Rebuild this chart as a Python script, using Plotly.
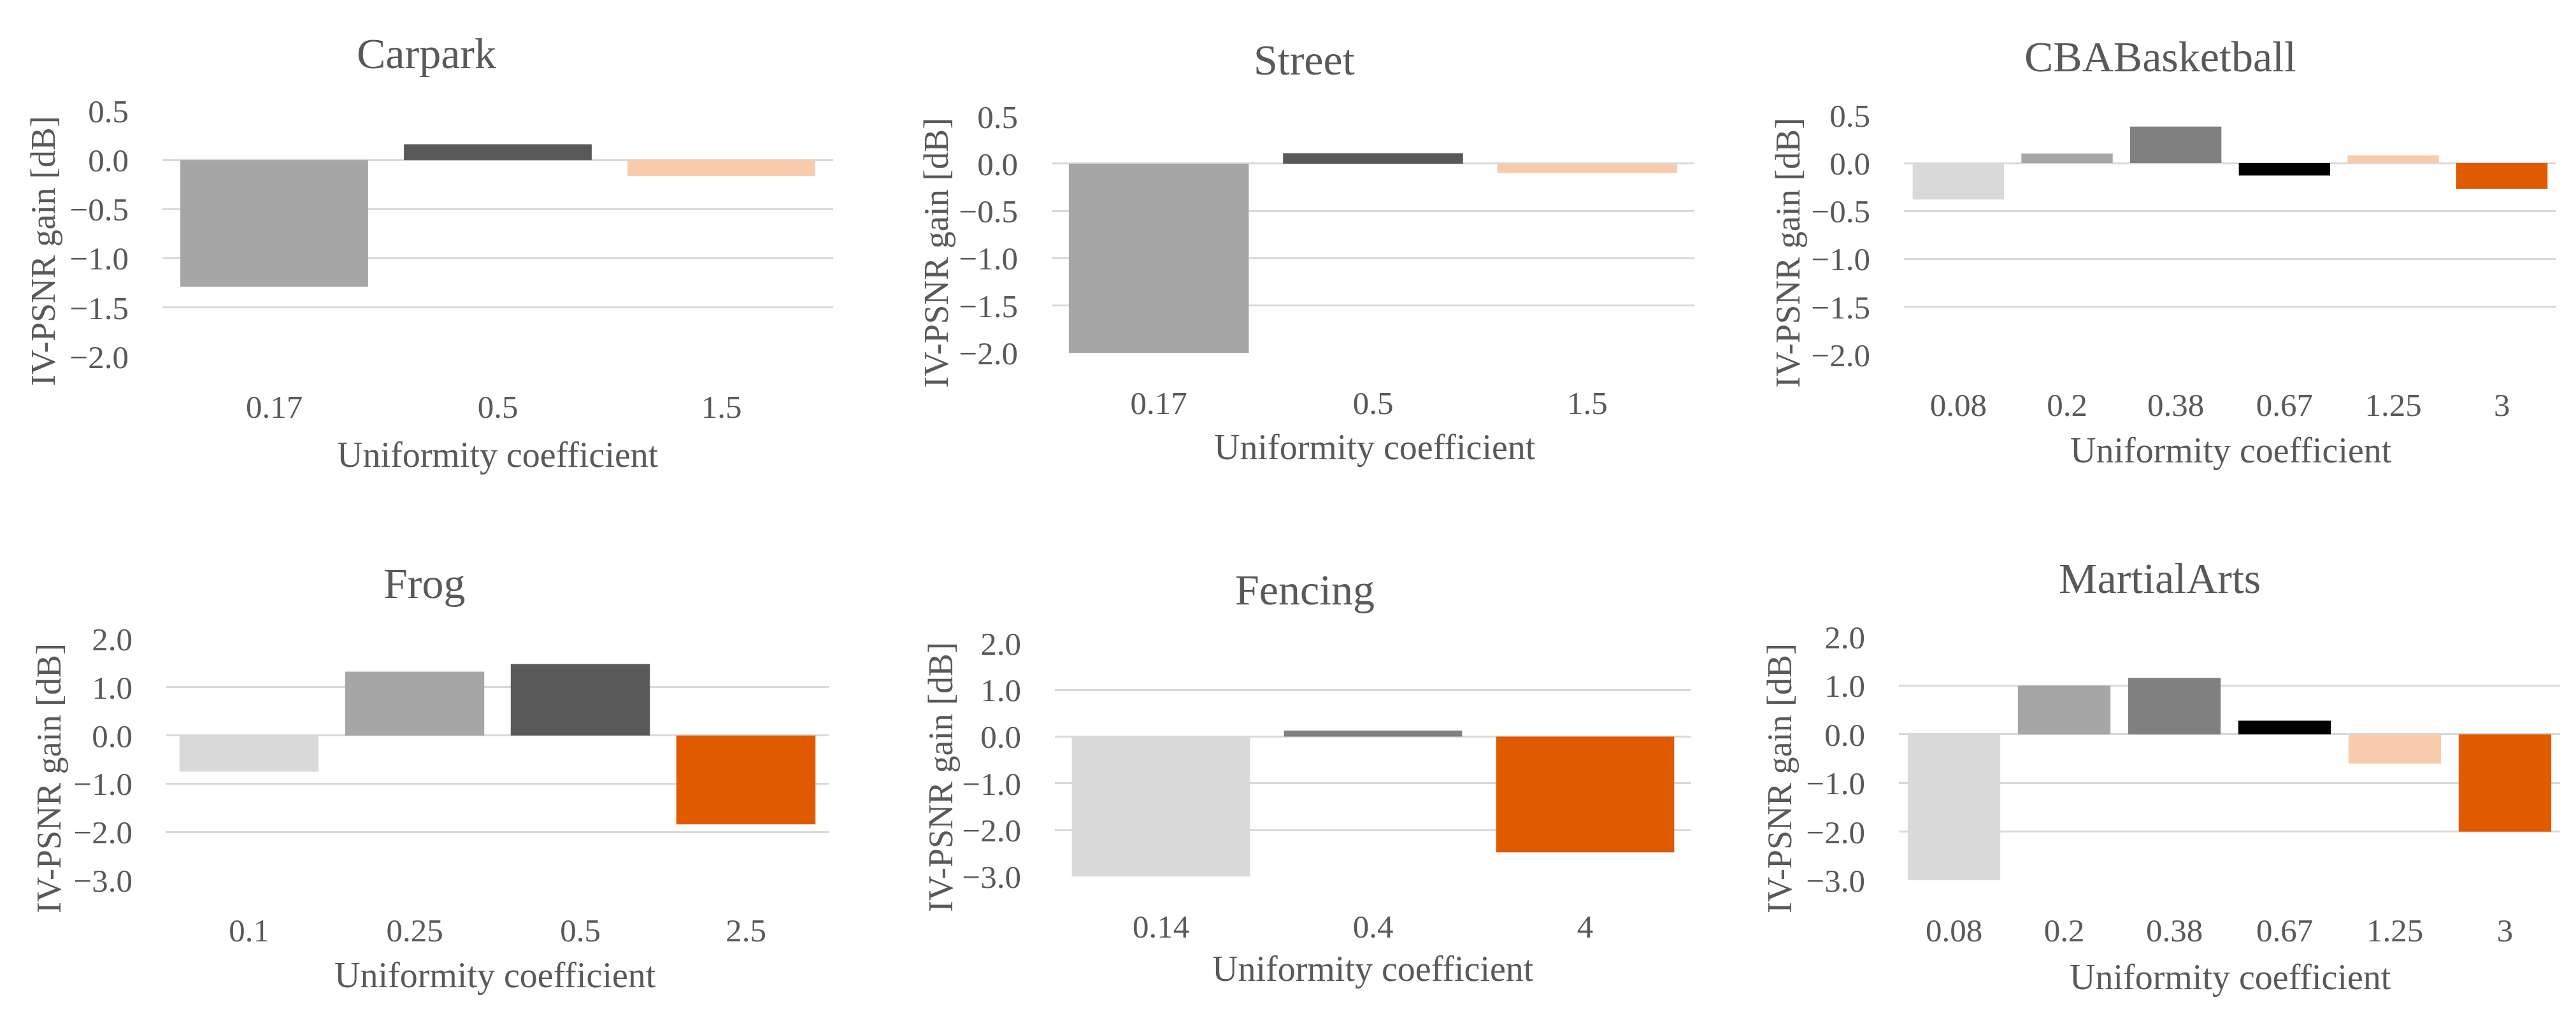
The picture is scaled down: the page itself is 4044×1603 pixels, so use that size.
import plotly.graph_objects as go

W, H = 4044, 1603

# ---------------- data ----------------
titles = ["Carpark", "Street", "CBABasketball", "Frog", "Fencing", "MartialArts"]

carpark_x = ["0.17", "0.5", "1.5"]
carpark_y = [-1.29, 0.16, -0.16]

street_x = ["0.17", "0.5", "1.5"]
street_y = [-2.0, 0.11, -0.10]

cba_x = ["0.08", "0.2", "0.38", "0.67", "1.25", "3"]
cba_y = [-0.38, 0.10, 0.38, -0.13, 0.08, -0.27]

frog_x = ["0.1", "0.25", "0.5", "2.5"]
frog_y = [-0.75, 1.32, 1.48, -1.84]

fencing_x = ["0.14", "0.4", "4"]
fencing_y = [-3.0, 0.13, -2.48]

martial_x = ["0.08", "0.2", "0.38", "0.67", "1.25", "3"]
martial_y = [-3.0, 1.0, 1.16, 0.28, -0.60, -2.0]

y_title = "IV-PSNR gain [dB]"
x_title = "Uniformity coefficient"

# ---------------- styles ----------------
LG, G1, G2, G3, BK, PE, OR = "#D9D9D9", "#A6A6A6", "#808080", "#595959", "#000000", "#F8CBAD", "#E05A00"

carpark_c = [G1, G3, PE]
street_c = [G1, G3, PE]
cba_c = [LG, G1, G2, BK, PE, OR]
frog_c = [LG, G1, G3, OR]
fencing_c = [LG, G2, OR]
martial_c = [LG, G1, G2, BK, PE, OR]

series = [
    (carpark_x, carpark_y, carpark_c),
    (street_x, street_y, street_c),
    (cba_x, cba_y, cba_c),
    (frog_x, frog_y, frog_c),
    (fencing_x, fencing_y, fencing_c),
    (martial_x, martial_y, martial_c),
]

# layout per panel (pixel geometry): plot box, y range, dtick, title/axis-title positions
panels = [
    dict(box=(247, 1300, 144, 544), yr=(-2, 0.5), dt=0.5, tt=(661, 51), xt=(773, 704), yt=(60, 372)),
    dict(box=(1643, 2652, 153, 538), yr=(-2, 0.5), dt=0.5, tt=(2039, 61), xt=(2150, 691), yt=(1462, 375)),
    dict(box=(2981, 4005, 151, 541), yr=(-2, 0.5), dt=0.5, tt=(3383, 56), xt=(3494, 696), yt=(2799, 375)),
    dict(box=(253, 1293, 1003, 1396), yr=(-3, 2), dt=1.0, tt=(658, 913), xt=(769, 1550), yt=(69, 1230)),
    dict(box=(1648, 2647, 1010, 1390), yr=(-3, 2), dt=1.0, tt=(2040, 923), xt=(2147, 1540), yt=(1469, 1228)),
    dict(box=(2973, 4011, 1000, 1396), yr=(-3, 2), dt=1.0, tt=(3382, 905), xt=(3493, 1553), yt=(2786, 1230)),
]

FONT = "Liberation Serif"
TXT = "#595959"

fig = go.Figure()
layout = dict(
    width=W, height=H,
    margin=dict(l=0, r=0, t=0, b=0),
    paper_bgcolor="white", plot_bgcolor="white",
    showlegend=False, bargap=0.16,
    font=dict(family=FONT, color=TXT, size=50),
)
annotations = []

for i, ((xs, ys, cs), p) in enumerate(zip(series, panels), start=1):
    sfx = "" if i == 1 else str(i)
    fig.add_trace(go.Bar(
        x=xs, y=ys, marker=dict(color=cs, line=dict(width=0)),
        xaxis="x" + sfx, yaxis="y" + sfx, hoverinfo="skip",
    ))
    x0, x1, y0, y1 = p["box"]
    layout["xaxis" + sfx] = dict(
        domain=[x0 / W, x1 / W], anchor="y" + sfx, type="category",
        showgrid=False, zeroline=False, showline=False, ticks="",
        tickfont=dict(family=FONT, size=51, color=TXT), ticklabelstandoff=44,
    )
    layout["yaxis" + sfx] = dict(
        domain=[1 - y1 / H, 1 - y0 / H], anchor="x" + sfx,
        range=list(p["yr"]), dtick=p["dt"], tick0=0, tickformat=".1f",
        showgrid=True, gridcolor=LG, gridwidth=3,
        zeroline=True, zerolinecolor=LG, zerolinewidth=3,
        showline=False, ticks="",
        tickfont=dict(family=FONT, size=51, color=TXT), ticklabelstandoff=52,
    )
    annotations.append(dict(text=titles[i - 1], xref="paper", yref="paper",
                            x=p["tt"][0] / W, y=1 - p["tt"][1] / H, showarrow=False,
                            xanchor="center", yanchor="middle",
                            font=dict(family=FONT, size=68, color=TXT)))
    annotations.append(dict(text=x_title, xref="paper", yref="paper",
                            x=p["xt"][0] / W, y=1 - p["xt"][1] / H, showarrow=False,
                            xanchor="center", yanchor="middle",
                            font=dict(family=FONT, size=56, color=TXT)))
    annotations.append(dict(text=y_title, xref="paper", yref="paper",
                            x=p["yt"][0] / W, y=1 - p["yt"][1] / H, showarrow=False,
                            xanchor="center", yanchor="middle", textangle=-90,
                            font=dict(family=FONT, size=54, color=TXT)))

layout["annotations"] = annotations
fig.update_layout(**layout)
fig.write_html("out.html")
